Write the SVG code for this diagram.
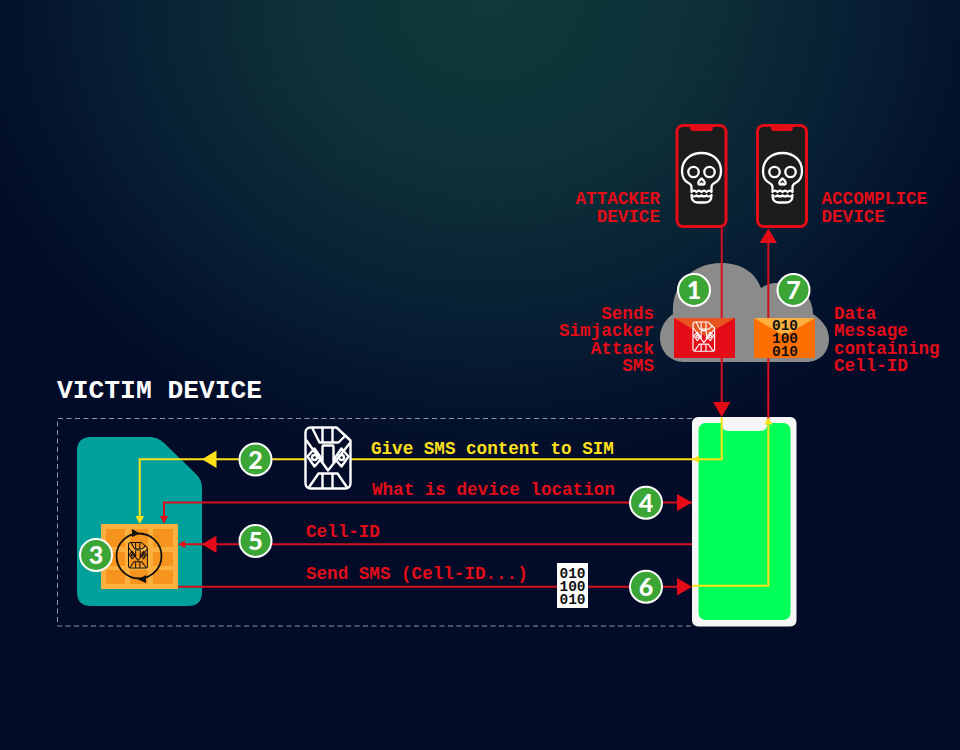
<svg xmlns="http://www.w3.org/2000/svg" width="960" height="750" viewBox="0 0 960 750">
<style>
.t{font-family:"Liberation Mono","DejaVu Sans Mono",monospace;font-weight:700;font-size:17.6px}
.r{fill:#e30c17}.y{fill:#ffe01a}
.e{text-anchor:end}
.lr{fill:none;stroke:#d80f1c;stroke-width:2}
.ly{fill:none;stroke:#ffe01a;stroke-width:2}
.b circle{fill:#3ba535;stroke:#fff;stroke-width:2}
.b text{font-family:Lato,"Noto Sans",sans-serif;font-weight:900;font-size:25px;fill:#fff;text-anchor:middle}
.bin{font-family:"Liberation Mono",monospace;font-weight:700;font-size:14.5px;fill:#111;text-anchor:middle}
.ic{fill:none;stroke-width:2.4;stroke-linejoin:round;stroke-linecap:round}
.sk{fill:none;stroke:#fff;stroke-width:2.300;stroke-linejoin:round;stroke-linecap:round}
</style>
<defs>
<radialGradient id="bg" gradientUnits="userSpaceOnUse" cx="0" cy="0" r="1" gradientTransform="translate(490 0) scale(540 470)">
<stop offset="0" stop-color="#103739"/><stop offset=".35" stop-color="#0e3238"/><stop offset=".7" stop-color="#071e33"/><stop offset="1" stop-color="#020c29"/>
</radialGradient>
<g id="sim" class="ic">
<path d="M5,0H31L45,13V56a5,5 0 0 1-5,5H5a5,5 0 0 1-5-5V5a5,5 0 0 1 5-5Z"/>
<path d="M7,1L14,15H33L40,8M17,1V15M27,1V15"/>
<path d="M1,13L22.500,43L44,16M17,35V19a1,1 0 0 1 1-1H27a1,1 0 0 1 1,1V35"/>
<path d="M2,29L9,21L16,31L9,39ZM43,29L36,21L29,31L36,39Z"/>
<circle cx="9" cy="30" r="2.500"/><circle cx="36" cy="30" r="2.500"/>
<path d="M4,59L13,46H32L41,59M17,46V60M27,46V60"/>
</g>
<g id="skull">
<path class="sk" d="M-10,14V9C-10,7 -11,6 -13,5C-17,3 -19.500,-2 -19.500,-7C-19.500,-18 -11,-25 0,-25C11,-25 19.500,-18 19.500,-7C19.500,-2 17,3 13,5C11,6 10,7 10,9V14C8,12 7,12 5,14C3,12 2,12 0,14C-2,12 -3,12 -5,14C-7,12 -8,12 -10,14Z"/>
<path class="sk" d="M-10,17C-10,22 -8,24.500 -4,24.500H4C8,24.500 10,22 10,17C8,19 7,19 5,17.500C3,19 2,19 0,17.500C-2,19 -3,19 -5,17.500C-7,19 -8,19 -10,17Z"/>
<circle class="sk" cx="-8" cy="-6" r="5.200"/><circle class="sk" cx="8" cy="-6" r="5.200"/>
<path class="sk" d="M0,0.500C-2,2 -3.500,4.500 -3,6C-2,7 -1,7 0,5.500C1,7 2,7 3,6C3.500,4.500 2,2 0,0.500Z"/>
</g>
</defs>
<rect width="960" height="750" fill="#020c29"/>
<rect width="960" height="750" fill="url(#bg)"/>

<g id="victim-frame">
<path d="M692,418.500H57.500V626H692" fill="none" stroke="#8d949c" stroke-width="1" stroke-dasharray="5 3.500"/>
<text class="t" x="57" y="398" style="font-size:26.300px" fill="#fff">VICTIM DEVICE</text>
</g>

<g id="cloud">
<path d="M684,362C670,362 660,351 660,338C660,327 666,319 673,314C671,285 692,263 721,263C741,263 755,272 761,288C768,283 776,282 783,283C800,284 813,297 813,314C822,320 829,328 829,339C829,352 820,362 806,362Z" fill="#8b8b8b"/>
</g>

<g id="sim-card">
<path d="M91,437H150Q158,437 164,443L196,474Q202,480 202,488V592Q202,606 188,606H91Q77,606 77,592V451Q77,437 91,437Z" fill="#00a19b"/>
</g>

<g id="phone">
<rect x="692" y="417" width="104.500" height="209.500" rx="6" fill="#f6f6f6"/>
<rect x="698.500" y="423" width="92" height="197" rx="7" fill="#00ff57"/>
<path d="M722,423H767V425Q767,431 760,431H729Q722,431 722,425Z" fill="#f6f6f6"/>
</g>

<g id="chip">
<rect x="101" y="524" width="77" height="65" fill="#fbb03f"/>
<g fill="#f7941d">
<rect x="106" y="529" width="19" height="18"/><rect x="130" y="529" width="18" height="18"/><rect x="153" y="529" width="20" height="18"/>
<rect x="106" y="552" width="19" height="14"/><rect x="130" y="552" width="18" height="14"/><rect x="153" y="552" width="20" height="14"/>
<rect x="106" y="570" width="19" height="14"/><rect x="130" y="570" width="18" height="14"/><rect x="153" y="570" width="20" height="14"/>
</g>
<circle cx="139" cy="556" r="22.500" fill="none" stroke="#111" stroke-width="1.800"/>
<path d="M132,529L140,533.500L132,537ZM146,575L138,579.500L146,583Z" fill="#111"/>
<use href="#sim" transform="translate(128.500 542.500) scale(.42)" stroke="#111"/>
</g>

<g id="connectors">
<path class="lr" d="M721.700,228V403"/>
<path class="lr" d="M768.300,420V241"/>
<path class="ly" d="M721.700,417V459.300H351M305,459.300H215"/>
<path class="ly" d="M215,459.300H139.700V516"/>
<path class="lr" d="M692,502.500H164V516"/>
<path class="lr" d="M692,544.300H184"/>
<path class="lr" d="M178,586.800H680"/>
<path class="ly" d="M692,585.800H768.300V425"/>
<path class="r" d="M768.300,228.500L777,243H759.500Z"/>
<path class="r" d="M721.700,417L713,402H730.500Z"/>
<path class="y" d="M202,459.300L216.500,450.500V468Z"/>
<path class="y" d="M692,459.300L699,455.500V463Z"/>
<path class="y" d="M139.700,524L135.500,516H144Z"/>
<path class="y" d="M768.300,417.500L772.500,424.500H764Z"/>
<path class="r" d="M164,524L160,516H168Z"/>
<path class="r" d="M692,502.500L677,494V511Z"/>
<path class="r" d="M202,544.300L216.500,535.500V553Z"/>
<path class="r" d="M178,544.300L185,540.500V548Z"/>
<path class="r" d="M692,586.800L677,578V595.500Z"/>
</g>

<g id="attacker-device">
<rect x="677" y="125.500" width="49" height="101" rx="6" fill="#1c1c1c" stroke="#e30c17" stroke-width="3"/>
<path d="M690,125H713V128Q713,131 710,131H693Q690,131 690,128Z" fill="#e30c17"/>
<use href="#skull" x="701.500" y="178"/>
<text class="t r e"><tspan x="660" y="204">ATTACKER</tspan><tspan x="660" y="222">DEVICE</tspan></text>
</g>
<g id="accomplice-device">
<rect x="757.500" y="125.500" width="49" height="101" rx="6" fill="#1c1c1c" stroke="#e30c17" stroke-width="3"/>
<path d="M771,125H793V128Q793,131 790,131H774Q771,131 771,128Z" fill="#e30c17"/>
<use href="#skull" x="782.500" y="178"/>
<text class="t r"><tspan x="821.500" y="204">ACCOMPLICE</tspan><tspan x="821.500" y="222">DEVICE</tspan></text>
</g>

<g id="attack-sms">
<rect x="674" y="318" width="61" height="40" fill="#e30c17"/>
<path d="M674,318H735L704.500,336Z" fill="#e8541f"/>
<use href="#sim" transform="translate(693 322) scale(.48)" stroke="#fff"/>
<text class="t r e"><tspan x="654" y="318.500">Sends</tspan><tspan x="654" y="336">Simjacker</tspan><tspan x="654" y="353.500">Attack</tspan><tspan x="654" y="371">SMS</tspan></text>
</g>
<g id="data-message">
<rect x="754" y="318" width="61" height="40" fill="#ff6f00"/>
<path d="M754,318H815L784.500,336Z" fill="#fbb03f"/>
<text class="bin"><tspan x="785" y="330">010</tspan><tspan x="785" y="343">100</tspan><tspan x="785" y="356">010</tspan></text>
<text class="t r"><tspan x="834" y="318.500">Data</tspan><tspan x="834" y="336">Message</tspan><tspan x="834" y="353.500">containing</tspan><tspan x="834" y="371">Cell-ID</tspan></text>
</g>

<g id="sim-icon">
<use href="#sim" transform="translate(305.500 427.500)" stroke="#fff"/>
</g>
<g id="binary">
<rect x="557" y="563" width="31" height="45" fill="#fff"/>
<text class="bin"><tspan x="572.500" y="578">010</tspan><tspan x="572.500" y="591">100</tspan><tspan x="572.500" y="604">010</tspan></text>
</g>

<g id="labels">
<text class="t y" x="371" y="454">Give SMS content to SIM</text>
<text class="t r" x="372" y="495">What is device location</text>
<text class="t r" x="306" y="537">Cell-ID</text>
<text class="t r" x="306" y="579">Send SMS (Cell-ID...)</text>
</g>

<g id="b1" class="b"><circle cx="694" cy="290" r="16"/><text x="694" y="299">1</text></g>
<g id="b7" class="b"><circle cx="793.500" cy="290" r="16"/><text x="793.500" y="299">7</text></g>
<g id="b2" class="b"><circle cx="255.500" cy="459.500" r="16"/><text x="255.500" y="468.500">2</text></g>
<g id="b3" class="b"><circle cx="96" cy="555" r="16"/><text x="96" y="564">3</text></g>
<g id="b4" class="b"><circle cx="646" cy="502.700" r="16"/><text x="646" y="511.700">4</text></g>
<g id="b5" class="b"><circle cx="255.500" cy="541" r="16"/><text x="255.500" y="550">5</text></g>
<g id="b6" class="b"><circle cx="646" cy="586.700" r="16"/><text x="646" y="595.700">6</text></g>
</svg>
